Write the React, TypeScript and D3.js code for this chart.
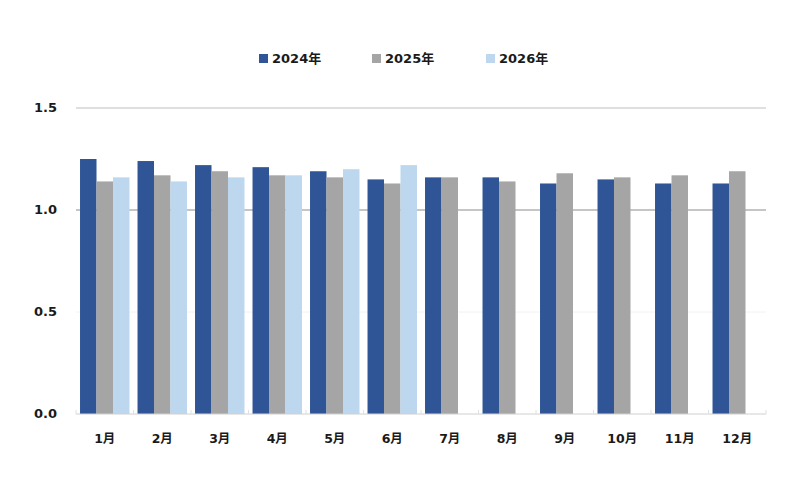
import { useEffect, useRef } from "react"
import * as d3 from "d3"

const months = ["1月", "2月", "3月", "4月", "5月", "6月", "7月", "8月", "9月", "10月", "11月", "12月"]
const seriesNames = ["2024年", "2025年", "2026年"]
const colors = ["#2f5597", "#a5a5a5", "#bdd7ee"]
const values2024 = [1.25, 1.24, 1.22, 1.21, 1.19, 1.15, 1.16, 1.16, 1.13, 1.15, 1.13, 1.13]
const values2025 = [1.14, 1.17, 1.19, 1.17, 1.16, 1.13, 1.16, 1.14, 1.18, 1.16, 1.17, 1.19]
const values2026 = [1.16, 1.14, 1.16, 1.17, 1.2, 1.22, null, null, null, null, null, null]
const yTicks = [0, 0.5, 1.0, 1.5]

const App = () => {
	const svgRef = useRef(null)

	useEffect(() => {
		const svg = d3.select(svgRef.current)
		svg.selectAll("*").remove()

		const font = "'DejaVu Sans', 'Noto Sans CJK JP', sans-serif"
		const left = 76
		const right = 766
		const top = 108
		const bottom = 414

		const x = d3.scaleBand().domain(months).range([left, right]).paddingInner(0.14).paddingOuter(0.07)
		const inner = d3.scaleBand().domain(seriesNames).range([0, x.bandwidth()])
		const y = d3.scaleLinear().domain([0, 1.5]).range([bottom, top])

		// gridlines
		const gridColor = (t: number) => (t === 0.5 ? "#f2f2f2" : t === 1 ? "#8c8c8c" : "#bfbfbf")
		svg.append("g")
			.selectAll("line")
			.data(yTicks.filter((t) => t > 0))
			.enter()
			.append("line")
			.attr("x1", left)
			.attr("x2", right)
			.attr("y1", (d) => y(d))
			.attr("y2", (d) => y(d))
			.attr("stroke", (d) => gridColor(d))
			.attr("stroke-width", 1)

		const all = [values2024, values2025, values2026]
		all.forEach((vals, si) => {
			svg.append("g")
				.selectAll("rect")
				.data(vals.map((v, i) => ({ v, m: months[i] })).filter((d) => d.v !== null))
				.enter()
				.append("rect")
				.attr("x", (d) => (x(d.m) as number) + (inner(seriesNames[si]) as number))
				.attr("width", inner.bandwidth())
				.attr("y", (d) => y(d.v as number))
				.attr("height", (d) => bottom - y(d.v as number))
				.attr("fill", colors[si])
		})

		// x axis
		svg.append("line")
			.attr("x1", left)
			.attr("x2", right)
			.attr("y1", bottom)
			.attr("y2", bottom)
			.attr("stroke", "#d0d0d0")
		const step = x.step()
		svg.append("g")
			.selectAll("line")
			.data(d3.range(months.length + 1))
			.enter()
			.append("line")
			.attr("x1", (i) => left + i * step)
			.attr("x2", (i) => left + i * step)
			.attr("y1", bottom)
			.attr("y2", bottom - 4)
			.attr("stroke", "#e0e0e0")

		svg.append("g")
			.selectAll("text")
			.data(months)
			.enter()
			.append("text")
			.attr("x", (d) => (x(d) as number) + x.bandwidth() / 2)
			.attr("y", 443)
			.attr("text-anchor", "middle")
			.attr("font-family", font)
			.attr("font-weight", "bold")
			.attr("font-size", 12.5)
			.attr("fill", "#1a1a1a")
			.text((d) => d)

		// y labels
		svg.append("g")
			.selectAll("text")
			.data(yTicks)
			.enter()
			.append("text")
			.attr("x", 57)
			.attr("y", (d) => y(d) + 4)
			.attr("text-anchor", "end")
			.attr("font-family", font)
			.attr("font-weight", "bold")
			.attr("font-size", 13)
			.attr("fill", "#1a1a1a")
			.text((d) => d3.format(".1f")(d))

		// legend
		const legendX = [259, 372, 486]
		const legend = svg.append("g")
			.selectAll("g")
			.data(seriesNames)
			.enter()
			.append("g")
			.attr("transform", (_d, i) => `translate(${legendX[i]},58)`)
		legend.append("rect")
			.attr("x", 0)
			.attr("y", -4)
			.attr("width", 9)
			.attr("height", 9)
			.attr("fill", (_d, i) => colors[i])
		legend.append("text")
			.attr("x", 13)
			.attr("y", 5)
			.attr("font-family", font)
			.attr("font-weight", "bold")
			.attr("font-size", 13)
			.attr("fill", "#1a1a1a")
			.text((d) => d)
	}, [])

	return (
		<svg
			ref={svgRef}
			width={800}
			height={480}
			style={{ position: "absolute", left: 0, top: 0, background: "#fff" }}
		></svg>
	)
}

export default App
